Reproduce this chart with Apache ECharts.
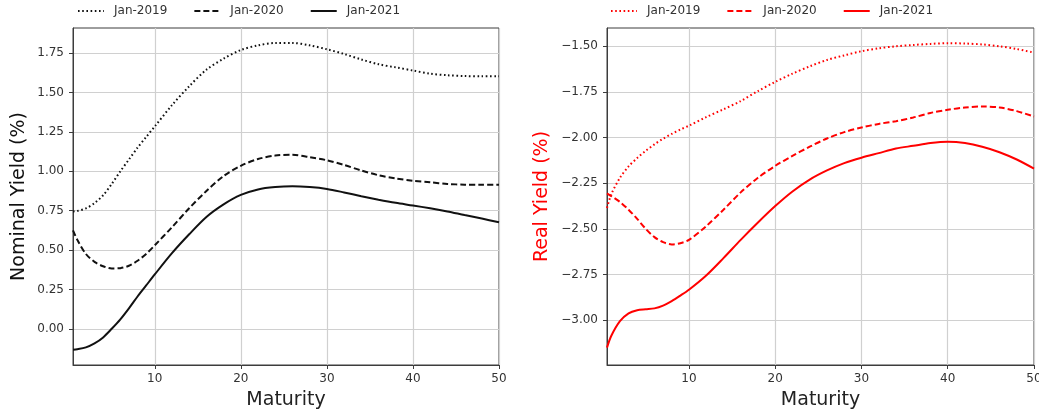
<!DOCTYPE html>
<html>
<head>
<meta charset="utf-8">
<script src="https://cdn.jsdelivr.net/npm/echarts@6/dist/echarts.min.js"></script>
<style>html,body{margin:0;padding:0;background:#fff}#c{width:1039px;height:414px}</style>
</head>
<body>
<div id="c"></div>
<script>
const maturity = [0.5,1,2,3,4,5,6,7,8,9,10,12,14,16,18,20,22,24,26,28,30,32,34,36,38,40,42,44,46,48,50];
const seriesNames = ['Jan-2019','Jan-2020','Jan-2021'];
const nominal2019 = [0.745,0.748,0.765,0.798,0.848,0.92,1.0,1.075,1.15,1.218,1.285,1.42,1.54,1.645,1.715,1.77,1.80,1.815,1.815,1.80,1.775,1.745,1.71,1.68,1.66,1.64,1.62,1.61,1.605,1.603,1.603];
const nominal2020 = [0.625,0.565,0.475,0.425,0.397,0.383,0.385,0.40,0.432,0.475,0.53,0.645,0.765,0.875,0.97,1.035,1.078,1.10,1.105,1.09,1.07,1.04,1.005,0.975,0.955,0.94,0.93,0.92,0.915,0.914,0.914];
const nominal2021 = [-0.133,-0.13,-0.118,-0.093,-0.055,0.0,0.06,0.13,0.205,0.275,0.345,0.48,0.60,0.71,0.79,0.85,0.885,0.90,0.905,0.90,0.888,0.866,0.842,0.82,0.80,0.783,0.765,0.745,0.722,0.70,0.676];
const real2019 = [-2.385,-2.31,-2.22,-2.158,-2.112,-2.072,-2.037,-2.006,-1.98,-1.956,-1.935,-1.888,-1.845,-1.80,-1.745,-1.695,-1.65,-1.61,-1.575,-1.55,-1.527,-1.511,-1.50,-1.493,-1.487,-1.483,-1.485,-1.49,-1.50,-1.515,-1.535];
const real2020 = [-2.305,-2.32,-2.352,-2.395,-2.445,-2.50,-2.545,-2.572,-2.585,-2.578,-2.56,-2.485,-2.395,-2.30,-2.22,-2.155,-2.10,-2.05,-2.005,-1.97,-1.945,-1.925,-1.91,-1.89,-1.865,-1.848,-1.835,-1.83,-1.835,-1.855,-1.885];
const real2021 = [-3.15,-3.085,-3.005,-2.962,-2.945,-2.94,-2.935,-2.92,-2.895,-2.865,-2.833,-2.755,-2.66,-2.56,-2.465,-2.375,-2.295,-2.23,-2.18,-2.14,-2.11,-2.085,-2.06,-2.045,-2.03,-2.023,-2.03,-2.05,-2.08,-2.12,-2.17];
const xTicks = [10,20,30,40,50];
const nominalTicks = [0,0.25,0.5,0.75,1.0,1.25,1.5,1.75];
const realTicks = [-3.0,-2.75,-2.5,-2.25,-2.0,-1.75,-1.5];

const FONT = 'DejaVu Sans';
const frameColor = '#3c3c3c';
const gridColor = '#d0d0d0';
const lineTypes = [[1.6,2.6],[6,3],'solid'];

function pairs(vals){ return maturity.map((m,i)=>[m, vals[i]]); }
function fmt(v){ const s = Math.abs(v).toFixed(2); return v < 0 ? '\u2212' + s : s; }

function xAxis(gi){
  return {
    type:'value', gridIndex:gi, min:0.5, max:50,
    name:'Maturity', nameLocation:'middle', nameGap:26,
    nameTextStyle:{fontFamily:FONT, fontSize:19, color:'#222'},
    axisLine:{onZero:false, lineStyle:{color:frameColor, width:1}},
    axisTick:{show:true, length:4, customValues:xTicks, lineStyle:{color:frameColor}},
    axisLabel:{customValues:xTicks, fontFamily:FONT, fontSize:12, color:'#333', margin:8},
    splitLine:{show:true, lineStyle:{color:gridColor, width:1.2}}
  };
}
function yAxis(gi, min, max, ticks, name, nameColor, gap){
  return {
    type:'value', gridIndex:gi, min:min, max:max,
    name:name, nameLocation:'middle', nameGap:gap,
    nameTextStyle:{fontFamily:FONT, fontSize:19, color:nameColor},
    axisLine:{onZero:false, lineStyle:{color:frameColor, width:1}},
    axisTick:{show:true, length:4, customValues:ticks, lineStyle:{color:frameColor}},
    axisLabel:{customValues:ticks, formatter:fmt, fontFamily:FONT, fontSize:12, color:'#333', margin:9},
    splitLine:{show:true, lineStyle:{color:gridColor, width:1.2}}
  };
}
function line(name, vals, color, gi, type){
  return {
    type:'line', name:name, xAxisIndex:gi, yAxisIndex:gi,
    data:pairs(vals), smooth:0.3, showSymbol:false, symbol:'none',
    lineStyle:{color:color, width:2, type:type}, itemStyle:{color:color},
    emphasis:{disabled:true}, animation:false
  };
}

const chart = echarts.init(document.getElementById('c'), null, {renderer:'canvas'});
const nomVals = [nominal2019, nominal2020, nominal2021];
const realVals = [real2019, real2020, real2021];
const series = [];
seriesNames.forEach((n,i)=>series.push(line(n, nomVals[i], '#111', 0, lineTypes[i])));
seriesNames.forEach((n,i)=>series.push(line('R:'+n, realVals[i], '#ff0000', 1, lineTypes[i])));

const legendBase = {top:5, padding:0, itemWidth:26, itemHeight:14, itemGap:26,
  itemStyle:{opacity:0}, selectedMode:false,
  textStyle:{fontFamily:FONT, fontSize:12, color:'#333', padding:[0,0,0,5]}};

chart.setOption({
  animation:false,
  backgroundColor:'#fff',
  grid:[
    {left:73, top:28, width:426, height:337, show:true, borderColor:frameColor, borderWidth:1, outerBoundsMode:'none', containLabel:false},
    {left:607, top:28, width:427, height:337, show:true, borderColor:frameColor, borderWidth:1, outerBoundsMode:'none', containLabel:false}
  ],
  legend:[
    Object.assign({}, legendBase, {data:seriesNames, left:77}),
    Object.assign({}, legendBase, {data:seriesNames.map(n=>'R:'+n), left:610, formatter:n=>n.slice(2)})
  ],
  xAxis:[xAxis(0), xAxis(1)],
  yAxis:[
    yAxis(0, -0.23, 1.91, nominalTicks, 'Nominal Yield (%)', '#111', 44),
    yAxis(1, -3.245, -1.40, realTicks, 'Real Yield (%)', '#ff0000', 55)
  ],
  series:series
});
</script>
</body>
</html>
